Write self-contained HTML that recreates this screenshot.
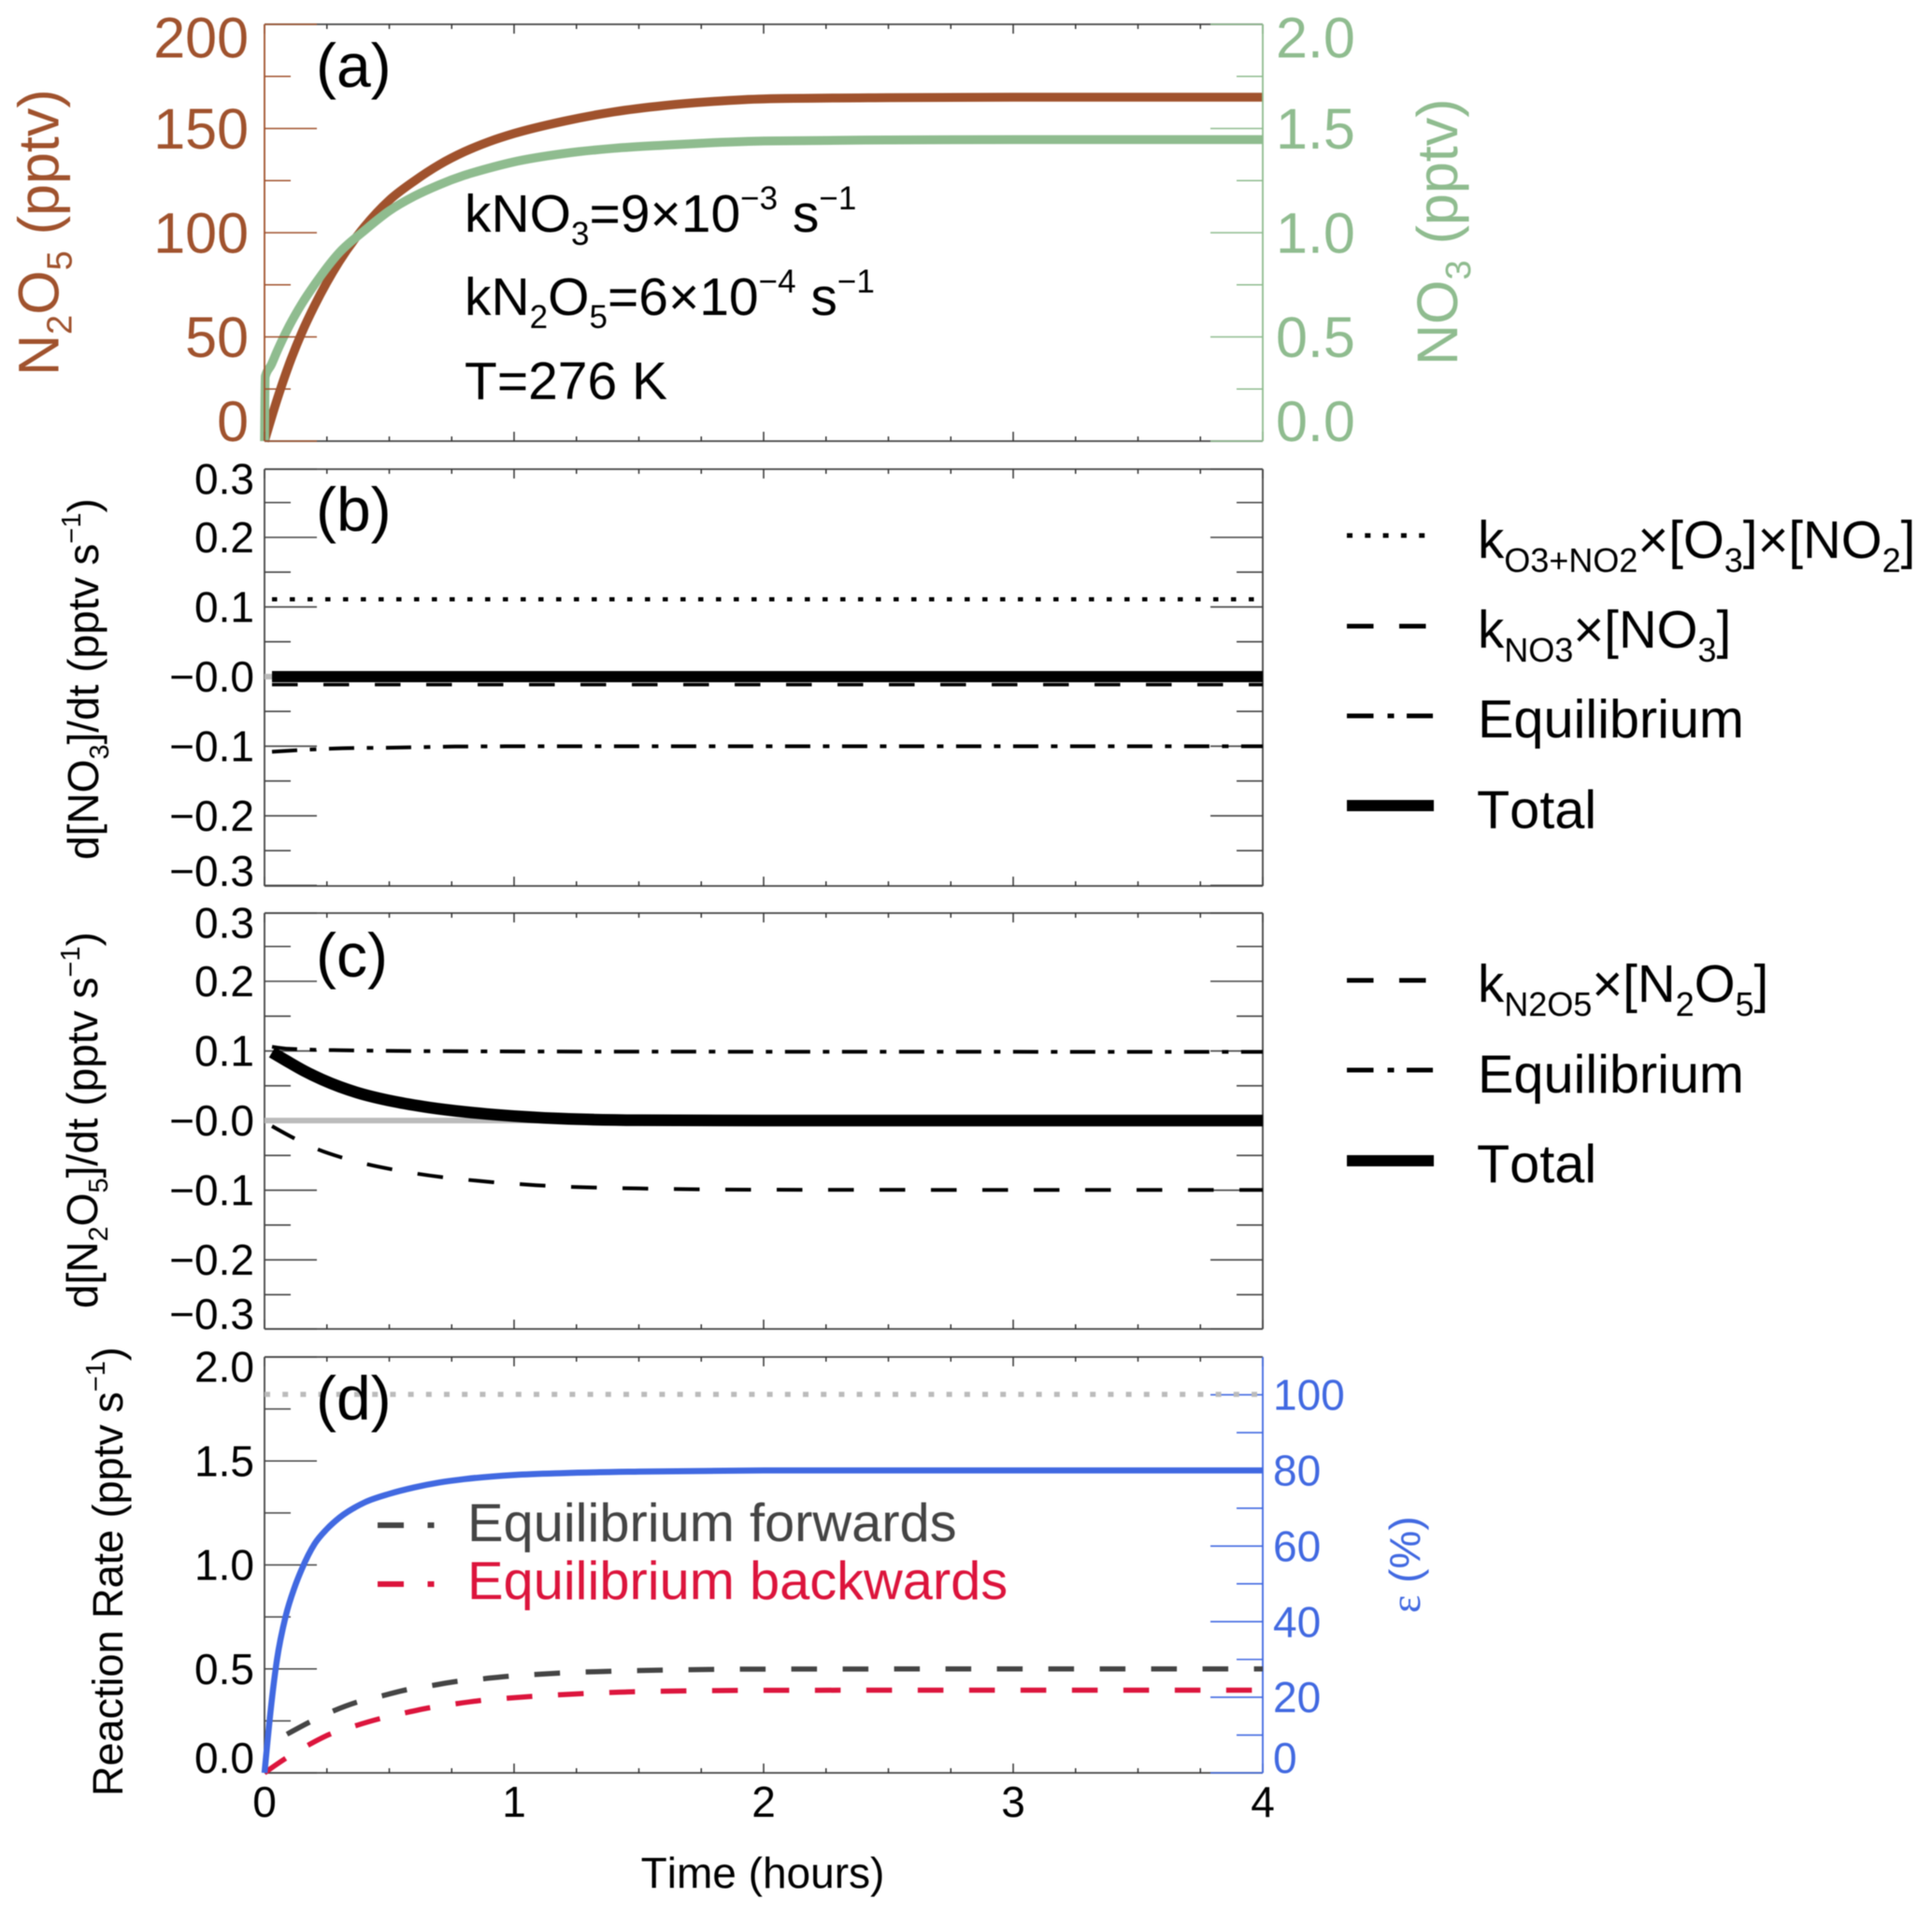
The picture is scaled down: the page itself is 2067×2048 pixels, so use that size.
<!DOCTYPE html>
<html lang="en">
<head>
<meta charset="utf-8">
<title>N2O5 and NO3 reaction rates</title>
<style>
html,body{margin:0;padding:0;background:#fff;}
svg{display:block;font-family:"Liberation Sans",sans-serif;filter:blur(0.5px);}
text{white-space:pre;font-kerning:none;}
</style>
</head>
<body>
<svg id="chart" xmlns="http://www.w3.org/2000/svg" width="2067" height="2048" viewBox="0 0 2067 2048">
<rect x="0" y="0" width="2067" height="2048" fill="#fff"/>
<g id="plots"></g>

<!-- panel letters -->
<text x="338" y="93" font-size="66" fill="#000">(a)</text>
<text x="338" y="568" font-size="66" fill="#000">(b)</text>
<text x="338" y="1045" font-size="66" fill="#000">(c)</text>
<text x="338" y="1519" font-size="66" fill="#000">(d)</text>

<!-- axis titles -->
<text transform="translate(62.5,402) rotate(-90)" font-size="61" fill="#a0522d">N<tspan dy="14" font-size="38">2</tspan><tspan dy="-14">O</tspan><tspan dy="14" font-size="38">5</tspan><tspan dy="-14"> (pptv)</tspan></text>
<text transform="translate(1559,391) rotate(-90)" font-size="61" fill="#8fbc8f">NO<tspan dy="14" font-size="38">3</tspan><tspan dy="-14"> (pptv)</tspan></text>
<text transform="translate(105,920) rotate(-90)" font-size="46" fill="#000">d[NO<tspan dy="11" font-size="29">3</tspan><tspan dy="-11">]/dt (pptv s</tspan><tspan dy="-19" font-size="29">−1</tspan><tspan dy="19">)</tspan></text>
<text transform="translate(104,1400) rotate(-90)" font-size="46" fill="#000">d[N<tspan dy="11" font-size="29">2</tspan><tspan dy="-11">O</tspan><tspan dy="11" font-size="29">5</tspan><tspan dy="-11">]/dt (pptv s</tspan><tspan dy="-19" font-size="29">−1</tspan><tspan dy="19">)</tspan></text>
<text transform="translate(131,1922) rotate(-90)" font-size="45" fill="#000">Reaction Rate (pptv s<tspan dy="-19" font-size="29">−1</tspan><tspan dy="19">)</tspan></text>
<text transform="translate(1519,1726) rotate(-90)" font-size="46" fill="#4169e1"><tspan font-family="Liberation Serif">ε</tspan> (%)</text>
<text x="816" y="2020" font-size="46" text-anchor="middle" fill="#000">Time (hours)</text>

<!-- annotation in panel a -->
<text x="497" y="248" font-size="57" fill="#000">kNO<tspan dy="14" font-size="35">3</tspan><tspan dy="-14">=9×10</tspan><tspan dy="-24" font-size="35">−3</tspan><tspan dy="24"> s</tspan><tspan dy="-24" font-size="35">−1</tspan></text>
<text x="497" y="337" font-size="57" fill="#000">kN<tspan dy="14" font-size="35">2</tspan><tspan dy="-14">O</tspan><tspan dy="14" font-size="35">5</tspan><tspan dy="-14">=6×10</tspan><tspan dy="-24" font-size="35">−4</tspan><tspan dy="24"> s</tspan><tspan dy="-24" font-size="35">−1</tspan></text>
<text x="497" y="427" font-size="57" fill="#000">T=276 K</text>

<!-- legend panel b -->
<g>
<line x1="1441" y1="573" x2="1526" y2="573" stroke="#000" stroke-width="5" stroke-dasharray="6 13.3"/>
<text x="1581" y="597" font-size="56.4" fill="#000">k<tspan dy="15" font-size="36">O3+NO2</tspan><tspan dy="-15">×[O</tspan><tspan dy="15" font-size="36">3</tspan><tspan dy="-15">]×[NO</tspan><tspan dy="15" font-size="36">2</tspan><tspan dy="-15">]</tspan></text>
<line x1="1441" y1="670" x2="1526" y2="670" stroke="#000" stroke-width="5" stroke-dasharray="28.5 27.5"/>
<text x="1581" y="693" font-size="56.4" fill="#000">k<tspan dy="15" font-size="36">NO3</tspan><tspan dy="-15">×[NO</tspan><tspan dy="15" font-size="36">3</tspan><tspan dy="-15">]</tspan></text>
<line x1="1441" y1="766" x2="1533" y2="766" stroke="#000" stroke-width="5" stroke-dasharray="28.5 15 7 13.5"/>
<text x="1581" y="789" font-size="57.6" fill="#000">Equilibrium</text>
<line x1="1441" y1="862" x2="1534" y2="862" stroke="#000" stroke-width="12"/>
<text x="1580" y="886" font-size="57.6" fill="#000">Total</text>
</g>

<!-- legend panel c -->
<g>
<line x1="1441" y1="1049" x2="1526" y2="1049" stroke="#000" stroke-width="5" stroke-dasharray="28.5 27.5"/>
<text x="1581" y="1072" font-size="56.4" fill="#000">k<tspan dy="15" font-size="36">N2O5</tspan><tspan dy="-15">×[N</tspan><tspan dy="15" font-size="36">2</tspan><tspan dy="-15">O</tspan><tspan dy="15" font-size="36">5</tspan><tspan dy="-15">]</tspan></text>
<line x1="1441" y1="1145" x2="1533" y2="1145" stroke="#000" stroke-width="5" stroke-dasharray="28.5 15 7 13.5"/>
<text x="1581" y="1169" font-size="57.6" fill="#000">Equilibrium</text>
<line x1="1441" y1="1242" x2="1534" y2="1242" stroke="#000" stroke-width="12"/>
<text x="1580" y="1265" font-size="57.6" fill="#000">Total</text>
</g>

<!-- legend panel d -->
<g>
<line x1="404" y1="1632" x2="465" y2="1632" stroke="#444" stroke-width="6" stroke-dasharray="28 25.5 7 20"/>
<text x="500" y="1649" font-size="57.8" fill="#444">Equilibrium forwards</text>
<line x1="404" y1="1695" x2="465" y2="1695" stroke="#dc143c" stroke-width="6" stroke-dasharray="28 25.5 7 20"/>
<text x="500" y="1711" font-size="57.8" fill="#dc143c">Equilibrium backwards</text>
</g>
</svg>

<script>
// Shared axis ticks
const hourMajor = [0, 1, 2, 3, 4];
const hourMinor = [0.25, 0.5, 0.75, 1.25, 1.5, 1.75, 2.25, 2.5, 2.75, 3.25, 3.5, 3.75];
const hourLabels = ['0', '1', '2', '3', '4'];

// Panel (a) axes
const n2o5Major = [0, 50, 100, 150, 200];
const n2o5Minor = [25, 75, 125, 175];
const n2o5Labels = ['0', '50', '100', '150', '200'];
const no3Major = [0, 0.5, 1, 1.5, 2];
const no3Minor = [0.25, 0.75, 1.25, 1.75];
const no3Labels = ['0.0', '0.5', '1.0', '1.5', '2.0'];

// Panel (a) series
const n2o5Time = [0, 0.05, 0.1, 0.15, 0.2, 0.3, 0.4, 0.5, 0.6, 0.7, 0.8, 0.9, 1, 1.2, 1.4, 1.6, 1.8, 2, 2.5, 3, 4];
const n2o5Values = [0, 19.8, 37.3, 52.2, 64.9, 86.3, 102.8, 115.6, 124.8, 132.6, 138.8, 143.7, 147.6, 153.5, 158, 161, 163, 164.2, 164.8, 165, 165];
const no3Time = [0, 0.003, 0.027, 0.05, 0.1, 0.15, 0.2, 0.3, 0.4, 0.5, 0.6, 0.7, 0.8, 0.9, 1, 1.2, 1.4, 1.6, 1.8, 2, 2.5, 3, 4];
const no3Values = [0, 0.31, 0.366, 0.43, 0.555, 0.66, 0.75, 0.905, 1.01, 1.105, 1.175, 1.23, 1.275, 1.31, 1.34, 1.38, 1.405, 1.42, 1.432, 1.44, 1.445, 1.447, 1.447];

// Panels (b) and (c) axes
const rateMajor = [-0.3, -0.2, -0.1, 0, 0.1, 0.2, 0.3];
const rateMinor = [-0.25, -0.15, -0.05, 0.05, 0.15, 0.25];
const rateLabels = ['−0.3', '−0.2', '−0.1', '−0.0', '0.1', '0.2', '0.3'];

// Panel (b) series
const bZeroTime = [0, 4];
const bZeroValues = [0, 0];
const bProductionTime = [0.03, 4];
const bProductionValues = [0.111, 0.111];
const bLossTime = [0.03, 4];
const bLossValues = [-0.0115, -0.0115];
const bEquilibriumTime = [0.03, 0.313, 0.538, 0.763, 1.2, 4];
const bEquilibriumValues = [-0.108, -0.103, -0.102, -0.1005, -0.1, -0.1];
const bTotalTime = [0.03, 4];
const bTotalValues = [0, 0];

// Panel (c) series
const cZeroTime = [0, 4];
const cZeroValues = [0, 0];
const cLossTime = [0.03, 0.115, 0.216, 0.309, 0.409, 0.51, 0.61, 0.71, 0.815, 0.915, 1.018, 1.119, 1.5, 2, 3, 4];
const cLossValues = [-0.008, -0.0247, -0.0417, -0.053, -0.0625, -0.07, -0.0762, -0.0812, -0.0852, -0.0885, -0.0912, -0.0935, -0.0975, -0.0993, -0.0996, -0.0996];
const cEquilibriumTime = [0.03, 0.1, 0.3, 0.8, 1.5, 4];
const cEquilibriumValues = [0.106, 0.103, 0.101, 0.0995, 0.099, 0.0987];
const cTotalTime = [0.03, 0.087, 0.158, 0.23, 0.302, 0.373, 0.517, 0.66, 0.803, 0.947, 1.187, 1.5, 2, 4];
const cTotalValues = [0.098, 0.086, 0.0715, 0.059, 0.0485, 0.04, 0.0275, 0.0188, 0.0125, 0.0078, 0.0028, 0.0005, 0, 0];

// Panel (d) axes
const reactionMajor = [0, 0.5, 1, 1.5, 2];
const reactionMinor = [0.25, 0.75, 1.25, 1.75];
const reactionLabels = ['0.0', '0.5', '1.0', '1.5', '2.0'];
const epsilonMajor = [0, 20, 40, 60, 80, 100];
const epsilonMinor = [10, 30, 50, 70, 90];
const epsilonLabels = ['0', '20', '40', '60', '80', '100'];

// Panel (d) series
const dLimitTime = [0, 4];
const dLimitValues = [1.82, 1.82];
const dForwardTime = [0.09, 0.19, 0.27, 0.37, 0.47, 0.57, 0.67, 0.77, 0.88, 0.98, 1.08, 1.18, 1.28, 1.5, 2, 3, 4];
const dForwardValues = [0.186, 0.25, 0.295, 0.34, 0.37, 0.4, 0.42, 0.44, 0.453, 0.465, 0.473, 0.48, 0.485, 0.492, 0.499, 0.5, 0.5];
const dBackwardTime = [0, 0.085, 0.17, 0.26, 0.36, 0.46, 0.56, 0.66, 0.76, 0.86, 0.96, 1.06, 1.16, 1.27, 1.37, 1.47, 2, 3, 4];
const dBackwardValues = [0, 0.07, 0.13, 0.185, 0.225, 0.26, 0.288, 0.313, 0.331, 0.347, 0.358, 0.367, 0.374, 0.381, 0.386, 0.39, 0.397, 0.398, 0.398];
const dEpsilonTime = [0, 0.027, 0.05, 0.085, 0.12, 0.15, 0.2, 0.25, 0.3, 0.4, 0.5, 0.6, 0.7, 0.8, 1, 1.2, 1.5, 2, 3, 4];
const dEpsilonValues = [0, 18, 30, 41.5, 49, 54, 60.5, 64.5, 67.5, 71.5, 73.8, 75.5, 76.8, 77.7, 78.8, 79.3, 79.7, 80, 80, 80];

const SVGNS = 'http://www.w3.org/2000/svg';
const plots = document.getElementById('plots');
const plotLeft = 283, plotRight = 1351;
const xAxis = linear(0, 4, plotLeft, plotRight);

function linear(d0, d1, r0, r1) {
  return function (v) { return r0 + (v - d0) / (d1 - d0) * (r1 - r0); };
}

function make(tag, parent) {
  const node = document.createElementNS(SVGNS, tag);
  parent.appendChild(node);
  return node;
}

function segment(parent, x1, y1, x2, y2, color, width) {
  const seg = make('line', parent);
  seg.setAttribute('x1', x1);
  seg.setAttribute('y1', y1);
  seg.setAttribute('x2', x2);
  seg.setAttribute('y2', y2);
  seg.setAttribute('stroke', color);
  seg.setAttribute('stroke-width', width);
  return seg;
}

function drawHourAxis(parent, top, bottom) {
  const edgeTop = segment(parent, plotLeft, top, plotRight, top, '#444', 1.8);
  
  
  const edgeBottom = segment(parent, plotLeft, bottom, plotRight, bottom, '#444', 1.8);
  
  
  hourMajor.concat(hourMinor).forEach(function (h) {
    const len = hourMajor.indexOf(h) >= 0 ? 10 : 5;
    const x = xAxis(h);
    const up = segment(parent, x, bottom, x, bottom - len, '#333', 1.5);
    
    
    const down = segment(parent, x, top, x, top + len, '#333', 1.5);
    
    
  });
}

function drawValueAxis(parent, opts) {
  const dir = opts.side === 'left' ? 1 : -1;
  const x0 = opts.side === 'left' ? plotLeft : plotRight;
  function clampY(y) { return Math.max(opts.top, Math.min(opts.bottom, y)); }
  const axisLine = segment(parent, x0, opts.top, x0, opts.bottom, opts.color, 1.8);
  
  
  opts.major.forEach(function (v, i) {
    const y = opts.scale(v);
    const tick = segment(parent, x0, clampY(y), x0 + dir * 56, clampY(y), opts.color, 1.6);
    
    
    if (opts.labels) {
      const label = make('text', parent);
      label.textContent = opts.labels[i];
      
      
      label.setAttribute('x', opts.labelX);
      const base = Math.max(opts.top + opts.fontSize * 0.58, Math.min(opts.bottom, y + opts.fontSize * 0.35));
      label.setAttribute('y', base);
      label.setAttribute('font-size', opts.fontSize);
      label.setAttribute('fill', opts.labelColor || opts.color);
      label.setAttribute('text-anchor', opts.side === 'left' ? 'end' : 'start');
    }
  });
  opts.minor.forEach(function (v) {
    const y = opts.scale(v);
    const tick = segment(parent, x0, y, x0 + dir * 28, y, opts.color, 1.6);
    
    
  });
}

// Monotone cubic path through the data points, no overshoot
function smoothPath(times, values, yAxis) {
  const px = times.map(function (t) { return xAxis(t); });
  const py = values.map(function (v) { return yAxis(v); });
  const n = px.length;
  let d = 'M' + px[0].toFixed(2) + ' ' + py[0].toFixed(2);
  if (n === 2) return d + ' L' + px[1].toFixed(2) + ' ' + py[1].toFixed(2);
  const h = [], s = [], m = new Array(n);
  for (let i = 0; i < n - 1; i++) {
    h.push(px[i + 1] - px[i]);
    s.push((py[i + 1] - py[i]) / h[i]);
  }
  for (let i = 1; i < n - 1; i++) {
    const sign = (Math.sign(s[i - 1]) + Math.sign(s[i]));
    const p = (s[i - 1] * h[i] + s[i] * h[i - 1]) / (h[i - 1] + h[i]);
    m[i] = sign * Math.min(Math.abs(s[i - 1]), Math.abs(s[i]), 0.5 * Math.abs(p));
  }
  m[0] = (3 * s[0] - m[1]) / 2;
  m[n - 1] = (3 * s[n - 2] - m[n - 2]) / 2;
  for (let i = 0; i < n - 1; i++) {
    const c = h[i] / 3;
    d += ' C' + (px[i] + c).toFixed(2) + ' ' + (py[i] + c * m[i]).toFixed(2) + ' ' +
      (px[i + 1] - c).toFixed(2) + ' ' + (py[i + 1] - c * m[i + 1]).toFixed(2) + ' ' +
      px[i + 1].toFixed(2) + ' ' + py[i + 1].toFixed(2);
  }
  return d;
}

function drawSeries(parent, name, times, values, yAxis, color, width, dash) {
  const path = make('path', parent);
  
  
  path.setAttribute('d', smoothPath(times, values, yAxis));
  path.setAttribute('fill', 'none');
  path.setAttribute('stroke', color);
  path.setAttribute('stroke-width', width);
  path.setAttribute('stroke-linejoin', 'round');
  if (dash) path.setAttribute('stroke-dasharray', dash);
  return path;
}

const BLACK = '#000', AXIS = '#444', BROWN = '#a0522d', GREEN = '#8fbc8f', BLUE = '#4169e1', RED = '#dc143c', DARK = '#444', GREY = '#bbb';
const DASH = '27.5 27.5', DOT = '5.5 13.5', DASHDOT = '27 13.5 7 13.5';

// Panel (a)
const panelA = make('g', plots);


const aLeft = linear(0, 200, 472, 26);
const aRight = linear(0, 2, 472, 26);
drawSeries(panelA, 'n2o5-line', n2o5Time, n2o5Values, aLeft, BROWN, 9.5);
drawSeries(panelA, 'no3-line', no3Time, no3Values, aRight, GREEN, 9.5);
drawHourAxis(panelA, 26, 472);
drawValueAxis(panelA, { side: 'left', top: 26, bottom: 472, scale: aLeft, major: n2o5Major, minor: n2o5Minor, labels: n2o5Labels, labelX: 266, fontSize: 61, color: BROWN });
drawValueAxis(panelA, { side: 'right', top: 26, bottom: 472, scale: aRight, major: no3Major, minor: no3Minor, labels: no3Labels, labelX: 1365, fontSize: 61, color: GREEN });

// Panel (b)
const panelB = make('g', plots);


const bAxis = linear(-0.3008, 0.298, 948, 502);
drawHourAxis(panelB, 502, 948);
drawValueAxis(panelB, { side: 'left', top: 502, bottom: 948, scale: bAxis, major: rateMajor, minor: rateMinor, labels: rateLabels, labelX: 272, fontSize: 46, color: AXIS, labelColor: BLACK });
drawValueAxis(panelB, { side: 'right', top: 502, bottom: 948, scale: bAxis, major: rateMajor, minor: rateMinor, color: AXIS });
drawSeries(panelB, 'zero-line-b', bZeroTime, bZeroValues, bAxis, GREY, 6);
drawSeries(panelB, 'o3-no2-production-line', bProductionTime, bProductionValues, bAxis, BLACK, 4.5, DOT);
drawSeries(panelB, 'kno3-loss-line', bLossTime, bLossValues, bAxis, BLACK, 3.6, DASH);
drawSeries(panelB, 'equilibrium-line-b', bEquilibriumTime, bEquilibriumValues, bAxis, BLACK, 4, DASHDOT);
drawSeries(panelB, 'total-line-b', bTotalTime, bTotalValues, bAxis, BLACK, 12);

// Panel (c)
const panelC = make('g', plots);


const cAxis = linear(-0.2993, 0.298, 1422, 977);
drawHourAxis(panelC, 977, 1422);
drawValueAxis(panelC, { side: 'left', top: 977, bottom: 1422, scale: cAxis, major: rateMajor, minor: rateMinor, labels: rateLabels, labelX: 272, fontSize: 46, color: AXIS, labelColor: BLACK });
drawValueAxis(panelC, { side: 'right', top: 977, bottom: 1422, scale: cAxis, major: rateMajor, minor: rateMinor, color: AXIS });
drawSeries(panelC, 'zero-line-c', cZeroTime, cZeroValues, cAxis, GREY, 6);
drawSeries(panelC, 'kn2o5-loss-line', cLossTime, cLossValues, cAxis, BLACK, 4, DASH);
drawSeries(panelC, 'equilibrium-line-c', cEquilibriumTime, cEquilibriumValues, cAxis, BLACK, 4, DASHDOT);
drawSeries(panelC, 'total-line-c', cTotalTime, cTotalValues, cAxis, BLACK, 12.5);

// Panel (d)
const panelD = make('g', plots);


const dLeft = linear(0, 2, 1897, 1452);
const dRight = linear(0, 110, 1897, 1452);
drawHourAxis(panelD, 1452, 1897);
drawValueAxis(panelD, { side: 'left', top: 1452, bottom: 1897, scale: dLeft, major: reactionMajor, minor: reactionMinor, labels: reactionLabels, labelX: 272, fontSize: 46, color: AXIS, labelColor: BLACK });
drawValueAxis(panelD, { side: 'right', top: 1452, bottom: 1897, scale: dRight, major: epsilonMajor, minor: epsilonMinor, labels: epsilonLabels, labelX: 1362, fontSize: 46, color: BLUE });
drawSeries(panelD, 'rate-limit-dotted-line', dLimitTime, dLimitValues, dLeft, GREY, 5.5, '6 13.2');
drawSeries(panelD, 'equilibrium-forwards-line', dForwardTime, dForwardValues, dLeft, DARK, 5.5, DASH);
drawSeries(panelD, 'equilibrium-backwards-line', dBackwardTime, dBackwardValues, dLeft, RED, 5.5, DASH);
drawSeries(panelD, 'epsilon-line', dEpsilonTime, dEpsilonValues, dRight, BLUE, 6.5);

// Shared time labels under panel (d)
hourMajor.forEach(function (h, i) {
  const label = make('text', panelD);
  label.textContent = hourLabels[i];
  
  
  label.setAttribute('x', xAxis(h));
  label.setAttribute('y', 1944);
  label.setAttribute('font-size', 46);
  label.setAttribute('text-anchor', 'middle');
  label.setAttribute('fill', '#000');
});
</script>
</body>
</html>
